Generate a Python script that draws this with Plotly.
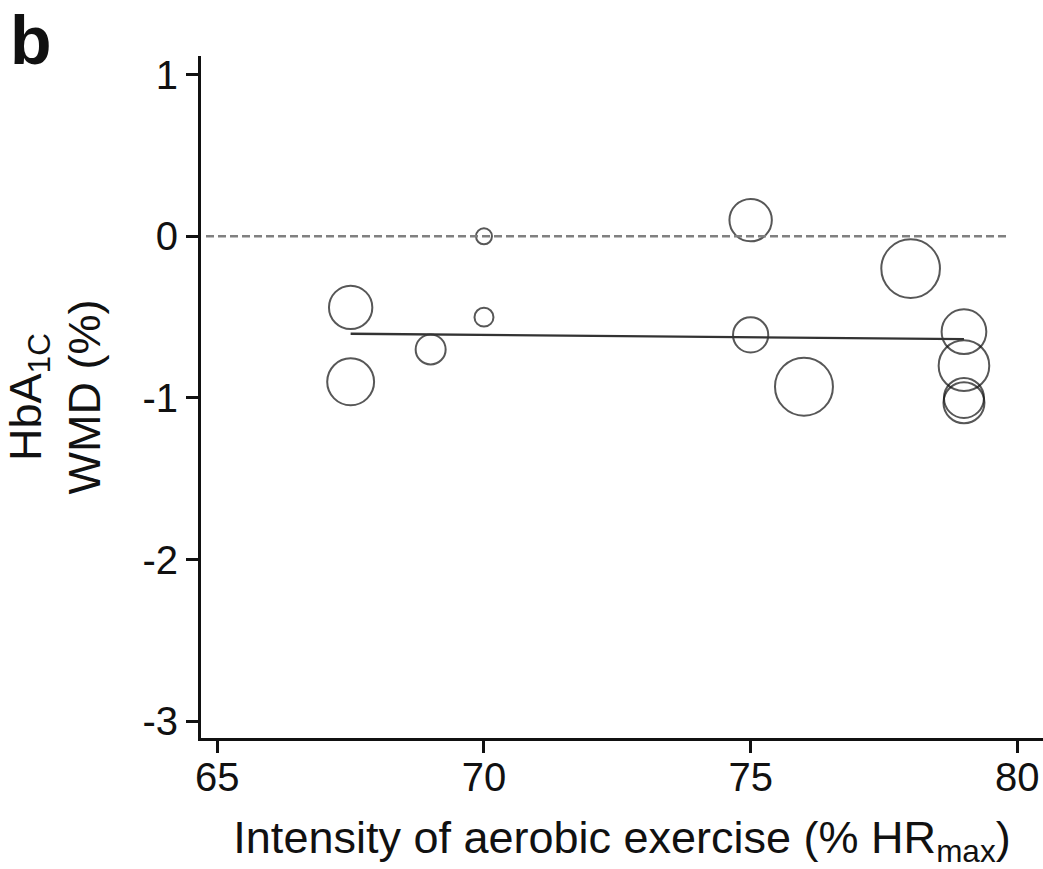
import plotly.graph_objects as go

# ---- data ----
intensity = [67.5, 67.5, 69, 70, 70, 75, 75, 76, 78, 79, 79, 79, 79]          # % HRmax
wmd = [-0.44, -0.90, -0.70, 0.00, -0.50, 0.10, -0.61, -0.93, -0.20, -0.59, -0.80, -1.00, -1.03]  # HbA1c WMD (%)
weights = [4.7, 5.5, 2.25, 0.64, 0.9, 4.5, 3.1, 8.4, 8.6, 5.0, 6.4, 4.0, 4.2]  # study weights

fit_x = [67.5, 79.0]
fit_y = [-0.603, -0.636]

x_ticks = [65, 70, 75, 80]
y_ticks = [-3, -2, -1, 0, 1]

FONT = "Liberation Sans, Arial, Helvetica, sans-serif"

fig = go.Figure()

fig.add_trace(go.Scatter(
    x=intensity, y=wmd, mode="markers",
    marker=dict(size=weights, sizemode="area", sizeref=0.005,
                color="rgba(0,0,0,0)",
                line=dict(color="#111111", width=2)),
    hoverinfo="x+y", showlegend=False,
))

fig.add_trace(go.Scatter(
    x=fit_x, y=fit_y, mode="lines",
    line=dict(color="#333333", width=2.4),
    hoverinfo="skip", showlegend=False,
))

# zero reference line
fig.add_shape(type="line", xref="paper", yref="y",
              x0=5 / 842, x1=(1007 - 201) / 842, y0=0, y1=0,
              line=dict(color="#808080", width=2.6, dash="8px,4px"))

fig.update_layout(
    width=1043, height=869,
    margin=dict(l=201, r=0, t=56, b=131),
    paper_bgcolor="white", plot_bgcolor="white",
    font=dict(family=FONT, color="#111111", size=40),
    xaxis=dict(
        range=[64.694, 80.482],
        tickvals=x_ticks, ticktext=[str(v) for v in x_ticks],
        showgrid=False, zeroline=False,
        showline=True, linecolor="#111111", linewidth=3,
        ticks="outside", ticklen=12, tickwidth=3, tickcolor="#111111",
        tickfont=dict(size=40, family=FONT),
        ticklabelstandoff=-10,
        title=dict(text="Intensity of aerobic exercise (% HR<sub>max</sub>)",
                   font=dict(size=45, family=FONT), standoff=30),
    ),
    yaxis=dict(
        range=[-3.103, 1.115],
        tickvals=y_ticks, ticktext=[str(v) for v in y_ticks],
        showgrid=False, zeroline=False,
        showline=True, linecolor="#111111", linewidth=3,
        ticks="outside", ticklen=12, tickwidth=3, tickcolor="#111111",
        tickfont=dict(size=40, family=FONT),
        title=dict(text="HbA<sub>1C</sub><br>WMD (%)",
                   font=dict(size=45, family=FONT), standoff=30),
    ),
    annotations=[dict(
        text="<b>b</b>", xref="paper", yref="paper",
        x=-201 / 842 + 8 / 842, y=1 + 56 / 682, xanchor="left", yanchor="top",
        showarrow=False, font=dict(size=68, family=FONT, color="#111111"),
    )],
)

fig.write_html("out.html")
